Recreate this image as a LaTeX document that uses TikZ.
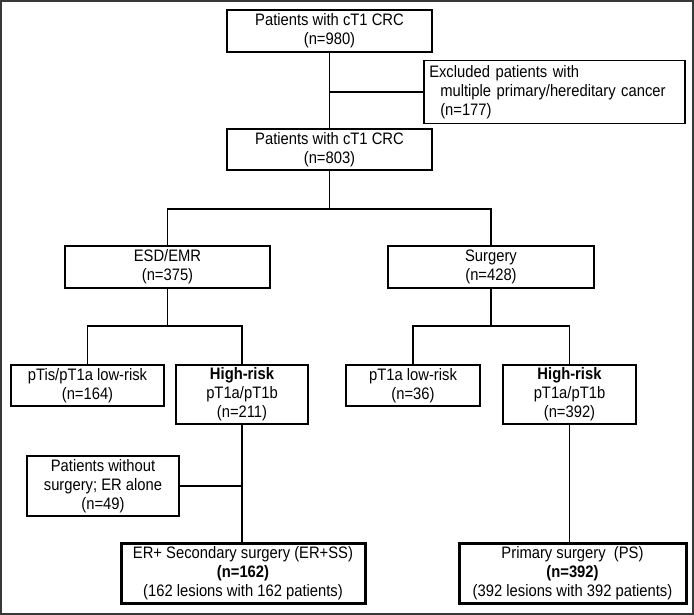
\documentclass[tikz,border=0pt]{standalone}
\usepackage{fontspec}
\setmainfont[FakeStretch=0.89]{Liberation Sans}
\begin{document}
\begin{tikzpicture}[x=1pt,y=-1pt,
  every node/.style={font=\fontsize{16.6}{19}\selectfont},
  box/.style={draw,line width=1.5pt,align=center,inner sep=2pt},
  thickbox/.style={draw,line width=3pt,align=center,inner sep=2pt},
  conn/.style={line width=1.5pt}]
\useasboundingbox (0,0) rectangle (694,615);
\draw[line width=2pt,color=black!78] (1,1) rectangle (693,614);

\node[box,minimum width=205pt,minimum height=42pt] (b1) at (329.5,31) {Patients with cT1 CRC\\(n=980)};
\node[box,minimum width=261pt,minimum height=60pt,align=left,anchor=west,text width=250pt,inner sep=5pt] (ex) at (423,92)
  {Excluded patients with\\\hspace*{11pt}multiple primary/hereditary cancer\\\hspace*{11pt}(n=177)};
\node[box,minimum width=205pt,minimum height=41pt] (b2) at (329.5,149.5) {Patients with cT1 CRC\\(n=803)};
\node[box,minimum width=205pt,minimum height=42pt] (esd) at (167.5,267) {ESD/EMR\\(n=375)};
\node[box,minimum width=206pt,minimum height=42pt] (surg) at (491,267) {Surgery\\(n=428)};
\node[box,minimum width=153pt,minimum height=41pt] (ptis) at (87.5,385.5) {pTis/pT1a low-risk\\(n=164)};
\node[box,minimum width=132pt,minimum height=59pt] (hrl) at (242,394.5) {\textbf{High-risk}\\pT1a/pT1b\\(n=211)};
\node[box,minimum width=134pt,minimum height=41pt] (pta) at (413,385.5) {pT1a low-risk\\(n=36)};
\node[box,minimum width=133pt,minimum height=59pt] (hrr) at (569.5,394.5) {\textbf{High-risk}\\pT1a/pT1b\\(n=392)};
\node[box,minimum width=152pt,minimum height=60pt] (wo) at (103,486) {Patients without\\surgery; ER alone\\(n=49)};
\node[thickbox,minimum width=244pt,minimum height=60pt] (erss) at (243,573) {ER+ Secondary surgery (ER+SS)\\\textbf{(n=162)}\\(162 lesions with 162 patients)};
\node[thickbox,minimum width=227pt,minimum height=60pt] (ps) at (572.5,573) {Primary surgery\ \ (PS)\\\textbf{(n=392)}\\(392 lesions with 392 patients)};

\coordinate (j1) at (b1.south |- ex.west);
\coordinate (j2) at (329.5,209);
\coordinate (j3) at (167.5,326);
\coordinate (j4) at (491,326);
\coordinate (j5) at (hrl.south |- wo.east);

\draw[conn] (b1.south) -- (b2.north);
\draw[conn] (j1) -- (ex.west);
\draw[conn] (b2.south) -- (j2);
\draw[conn] (esd.north) -- (esd.north |- j2) -- (surg.north |- j2) -- (surg.north);
\draw[conn] (esd.south) -- (j3);
\draw[conn] (ptis.north) -- (ptis.north |- j3) -- (hrl.north |- j3) -- (hrl.north);
\draw[conn] (surg.south) -- (j4);
\draw[conn] (pta.north) -- (pta.north |- j4) -- (hrr.north |- j4) -- (hrr.north);
\draw[conn] (hrl.south) -- (hrl.south |- erss.north);
\draw[conn] (wo.east) -- (j5);
\draw[conn] (hrr.south) -- (hrr.south |- ps.north);
\end{tikzpicture}
\end{document}
